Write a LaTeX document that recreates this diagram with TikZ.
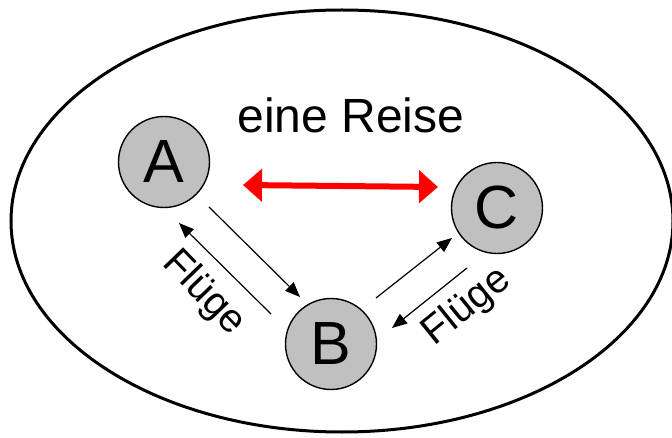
\documentclass[tikz,border=0pt]{standalone}
\usepackage{fontspec}
\setmainfont{Liberation Sans}
\usetikzlibrary{arrows.meta}
\definecolor{nodegray}{RGB}{192,192,192}
\tikzset{
  place/.style={circle, draw=black, line width=1.4pt, fill=nodegray, minimum size=91pt, inner sep=0pt, font=\fontsize{61}{61}\selectfont},
  flow/.style={line width=1.2pt, -{Triangle[length=15pt,width=12pt]}},
  trip/.style={line width=6pt, red, {Triangle[length=19pt,width=32pt]}-{Triangle[length=19pt,width=32pt]}},
  lbl/.style={font=\fontsize{40}{40}\selectfont, inner sep=0pt}
}
\begin{document}
\begin{tikzpicture}[x=1pt,y=-1pt]
\useasboundingbox (0,0) rectangle (672,438);
\draw[line width=3pt] (342,221) ellipse [x radius=331pt, y radius=211pt];
\node[place] (A) at (164,162) {A};
\node[place] (B) at (331,344) {B};
\node[place] (C) at (497,208) {C};
\node[anchor=base, inner sep=0pt, font=\fontsize{48}{48}\selectfont] (title) at (351,133) {eine Reise};
\coordinate (ab1) at (209,207);
\coordinate (ab2) at (300,297);
\coordinate (ba1) at (271,314);
\coordinate (ba2) at (179,223);
\coordinate (bc1) at (376,298);
\coordinate (bc2) at (452,238);
\coordinate (cb1) at (467,268);
\coordinate (cb2) at (392,328);
\coordinate (r1) at (243,185);
\coordinate (r2) at (438,187);
\draw[flow] (ab1) -- (ab2);
\draw[flow] (ba1) -- (ba2);
\draw[flow] (bc1) -- (bc2);
\draw[flow] (cb1) -- (cb2);
\draw[trip] (r1) -- (r2);
\node[lbl, rotate=-46] (f1) at (204,293) {Flüge};
\node[lbl, rotate=39] (f2) at (467,307) {Flüge};
\end{tikzpicture}
\end{document}
